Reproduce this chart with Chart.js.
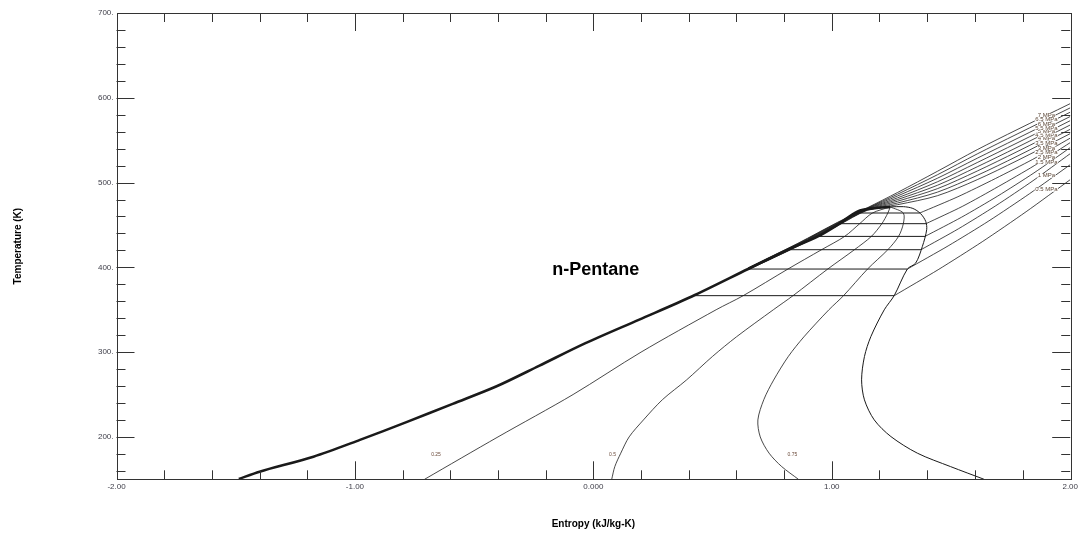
<!DOCTYPE html>
<html><head><meta charset="utf-8">
<script src="https://cdn.jsdelivr.net/npm/chart.js@4.4.0/dist/chart.umd.min.js"></script>
<style>html,body{margin:0;padding:0;background:#fff;}#wrap{width:1081px;height:535px;}</style>
</head><body><div id="wrap"><canvas id="c" width="1081" height="535"></canvas></div>
<script>
// ---- tick labels ----
const xTickValues = [-2, -1, 0, 1, 2];
const xTickLabels = ['-2.00', '-1.00', '0.000', '1.00', '2.00'];
const yTickValues = [200, 300, 400, 500, 600, 700];
const yTickLabels = ['200.', '300.', '400.', '500.', '600.', '700.'];

// ---- saturation dome (s kJ/kg-K, T K) ----
const satLiquid = [[-1.487,150.4],[-1.40,159.0],[-1.174,176.7],[-0.979,196.5],[-0.784,217.4],[-0.590,239.0],[-0.408,259.4],[-0.228,283.8],[-0.033,310.6],[0.190,338.1],[0.413,365.6],[0.649,398.0],[0.816,420.8],[0.942,436.5],[1.025,450.3],[1.109,466.0],[1.18,469.8],[1.245,471.3]];
const satVapor = [[1.245,471.3],[1.30,471.6],[1.34,469.5],[1.372,463.5],[1.394,454.2],[1.398,444.4],[1.380,424.7],[1.352,405.1],[1.317,398.0],[1.262,366.8],[1.220,349.9],[1.164,318.4],[1.137,294.8],[1.125,267.3],[1.137,243.7],[1.178,220.1],[1.248,200.4],[1.359,180.8],[1.498,165.0],[1.638,150.1]];

// ---- quality lines ----
const qualityNames = ['0.25', '0.5', '0.75'];
const quality025 = [[-0.708,150],[-0.40,200],[-0.085,250],[0.20,300],[0.515,350],[0.628,366.5],[0.816,398],[0.957,420.8],[1.054,436.5],[1.117,451.5],[1.17,464],[1.245,471.3]];
const quality050 = [[0.077,150],[0.09,165],[0.115,180.8],[0.15,200],[0.21,220],[0.29,244],[0.39,267],[0.50,295],[0.60,318],[0.755,350],[0.837,366.5],[0.983,398],[1.095,420.8],[1.166,436.5],[1.21,451.5],[1.235,464],[1.245,471.3]];
const quality075 = [[0.86,150],[0.79,165],[0.737,180.8],[0.70,200],[0.69,220],[0.715,244],[0.756,267],[0.818,295],[0.883,318],[0.988,350],[1.049,366.5],[1.15,398],[1.235,420.8],[1.28,436.5],[1.30,451.5],[1.30,464],[1.245,471.3]];
const qualityLabelAt = [[-0.66,179],[0.08,179],[0.835,179]];

// ---- isobars ----
const isobarNames = ['0.5 MPa','1 MPa','1.5 MPa','2 MPa','2.5 MPa','3 MPa','3.5 MPa','4 MPa','4.5 MPa','5 MPa','5.5 MPa','6 MPa','6.5 MPa','7 MPa'];
// subcritical: liquid point, vapour point, superheated vapour
const isobar05 = [[0.413,366.6],[1.262,366.6],[1.446,397.2],[1.631,430.2],[1.815,465.6],[2.0,503.4]];
const isobar10 = [[0.649,398.0],[1.317,398.0],[1.488,425.3],[1.659,454.8],[1.829,486.8],[2.0,521.1]];
const isobar15 = [[0.816,420.8],[1.374,420.8],[1.532,445.6],[1.688,472.7],[1.844,502.2],[2.0,534.1]];
const isobar20 = [[0.942,436.5],[1.391,436.5],[1.544,459.1],[1.696,484.1],[1.848,511.4],[2.0,541.2]];
const isobar25 = [[1.025,451.5],[1.395,451.5],[1.547,471.8],[1.698,495.2],[1.849,519.9],[2.0,547.1]];
const isobar30 = [[1.100,464.1],[1.369,464.1],[1.529,483.3],[1.686,504.7],[1.843,527.4],[2.0,552.4]];
// supercritical (compressed liquid -> fluid)
const isobar35 = [[0.649,397.2],[0.858,424.9],[1.025,449.1],[1.150,467.4],[1.276,473.9],[1.443,484.5],[1.610,503.4],[1.777,525.8],[2.0,557.7]];
const isobar40 = [[0.649,397.5],[0.858,425.4],[1.025,449.7],[1.150,467.9],[1.276,475.9],[1.443,488.7],[1.610,508.5],[1.777,531.0],[2.0,562.8]];
const isobar45 = [[0.649,397.8],[0.858,425.9],[1.025,450.3],[1.150,468.2],[1.276,478.0],[1.443,492.8],[1.610,513.6],[1.777,536.4],[2.0,567.9]];
const isobar50 = [[0.649,398.1],[0.858,426.4],[1.025,450.9],[1.150,468.7],[1.276,480.0],[1.443,496.8],[1.610,518.6],[1.777,541.5],[2.0,573.0]];
const isobar55 = [[0.649,398.4],[0.858,426.9],[1.025,451.5],[1.150,469.1],[1.276,482.0],[1.443,500.9],[1.610,523.6],[1.777,546.7],[2.0,577.9]];
const isobar60 = [[0.649,398.7],[0.858,427.4],[1.025,452.1],[1.150,469.5],[1.276,484.2],[1.443,505.1],[1.610,528.7],[1.777,551.9],[2.0,583.0]];
const isobar65 = [[0.649,399.1],[0.858,427.9],[1.025,452.7],[1.150,469.9],[1.276,486.3],[1.443,509.2],[1.610,533.8],[1.777,557.2],[2.0,588.1]];
const isobar70 = [[0.649,399.5],[0.858,428.4],[1.025,453.2],[1.150,470.4],[1.276,488.3],[1.443,513.3],[1.610,538.8],[1.777,562.4],[2.0,593.1]];
const isobarLabelT = [491.6,508.1,524.1,530.0,535.3,540.6,546.5,551.8,555.9,560.1,564.2,568.9,574.3,579.6];
const isobarLabelS = 1.9;

const subcritical = [isobar05, isobar10, isobar15, isobar20, isobar25, isobar30];
const supercritical = [isobar35, isobar40, isobar45, isobar50, isobar55, isobar60, isobar65, isobar70];

const LINE = '#1a1a1a';
const pts = a => a.map(p => ({x: p[0], y: p[1]}));
const ds = (arr, w, t) => ({data: pts(arr), showLine: true, borderColor: LINE, borderWidth: w, pointRadius: 0, tension: t, fill: false});

const datasets = [];
datasets.push(ds(satLiquid, 2.6, 0.3));
datasets.push(ds(satVapor, 1, 0.3));
[quality025, quality050, quality075].forEach(q => datasets.push(ds(q, 0.8, 0.3)));
subcritical.forEach(a => {
  datasets.push(ds(a.slice(0, 2), 1, 0));
  datasets.push(ds(a.slice(1), 0.8, 0.25));
});
supercritical.forEach(a => datasets.push(ds(a, 0.8, 0.3)));

const framePlugin = {
  id: 'frame',
  afterDraw(chart) {
    const {ctx, chartArea: a, scales: {x, y}} = chart;
    ctx.save();
    ctx.strokeStyle = '#333';
    ctx.lineWidth = 1;
    ctx.strokeRect(Math.round(a.left) + 0.5, Math.round(a.top) + 0.5, Math.round(a.right - a.left), Math.round(a.bottom - a.top));
    ctx.beginPath();
    for (let i = -9; i <= 9; i++) {
      const px = Math.round(x.getPixelForValue(i / 5)) + 0.5;
      const len = (i % 5 === 0) ? 18 : 9;
      ctx.moveTo(px, a.bottom); ctx.lineTo(px, a.bottom - len);
      ctx.moveTo(px, a.top); ctx.lineTo(px, a.top + len);
    }
    for (let v = 160; v < 700; v += 20) {
      const py = Math.round(y.getPixelForValue(v)) + 0.5;
      const len = (v % 100 === 0) ? 18 : 9;
      ctx.moveTo(a.left, py); ctx.lineTo(a.left + len, py);
      ctx.moveTo(a.right, py); ctx.lineTo(a.right - len, py);
    }
    ctx.stroke();

    // isobar labels
    ctx.font = '6px "Liberation Sans", Arial, sans-serif';
    ctx.textAlign = 'center';
    ctx.textBaseline = 'middle';
    isobarNames.forEach((n, i) => {
      const px = x.getPixelForValue(isobarLabelS), py = y.getPixelForValue(isobarLabelT[i]);
      const w = ctx.measureText(n).width;
      ctx.fillStyle = '#fff';
      ctx.fillRect(px - w / 2 - 0.5, py - 2, w + 1, 4);
      ctx.fillStyle = '#5b4636';
      ctx.fillText(n, px, py);
    });
    // quality labels
    ctx.font = '5px "Liberation Sans", Arial, sans-serif';
    ctx.fillStyle = '#6b4a3a';
    qualityNames.forEach((n, i) => {
      ctx.fillText(n, x.getPixelForValue(qualityLabelAt[i][0]), y.getPixelForValue(qualityLabelAt[i][1]));
    });
    // fluid name
    ctx.font = 'bold 18px "Liberation Sans", Arial, sans-serif';
    ctx.fillStyle = '#000';
    ctx.fillText('n-Pentane', x.getPixelForValue(0.01), y.getPixelForValue(397));
    ctx.restore();
  }
};

new Chart(document.getElementById('c'), {
  type: 'scatter',
  data: {datasets},
  plugins: [framePlugin],
  options: {
    responsive: false,
    animation: false,
    events: [],
    layout: {padding: {left: 0, right: 7.5, top: 13, bottom: 0}},
    plugins: {legend: {display: false}, tooltip: {enabled: false}},
    scales: {
      x: {
        type: 'linear', min: -2, max: 2,
        afterFit: s => { s.height = 55.7; },
        afterBuildTicks: s => { s.ticks = xTickValues.map(v => ({value: v})); },
        ticks: {
          padding: 3, color: '#3d3d48', maxRotation: 0, autoSkip: false,
          font: {family: '"Liberation Sans", Arial, sans-serif', size: 8},
          callback: (v) => xTickLabels[xTickValues.indexOf(v)]
        },
        grid: {display: true, drawOnChartArea: false, drawTicks: false},
        border: {display: false},
        title: {display: true, text: 'Entropy (kJ/kg-K)', color: '#000', padding: {top: 0, bottom: 5},
          font: {family: '"Liberation Sans", Arial, sans-serif', size: 10, weight: 'bold'}}
      },
      y: {
        type: 'linear', min: 150, max: 700,
        afterFit: s => { s.width = 116.5; },
        afterBuildTicks: s => { s.ticks = yTickValues.map(v => ({value: v})); },
        ticks: {
          padding: 3, color: '#3d3d48', autoSkip: false,
          font: {family: '"Liberation Sans", Arial, sans-serif', size: 8},
          callback: (v) => yTickLabels[yTickValues.indexOf(v)]
        },
        grid: {display: true, drawOnChartArea: false, drawTicks: false},
        border: {display: false},
        title: {display: true, text: 'Temperature (K)', color: '#000', padding: {top: 12, bottom: 0},
          font: {family: '"Liberation Sans", Arial, sans-serif', size: 10, weight: 'bold'}}
      }
    }
  }
});
</script></body></html>
